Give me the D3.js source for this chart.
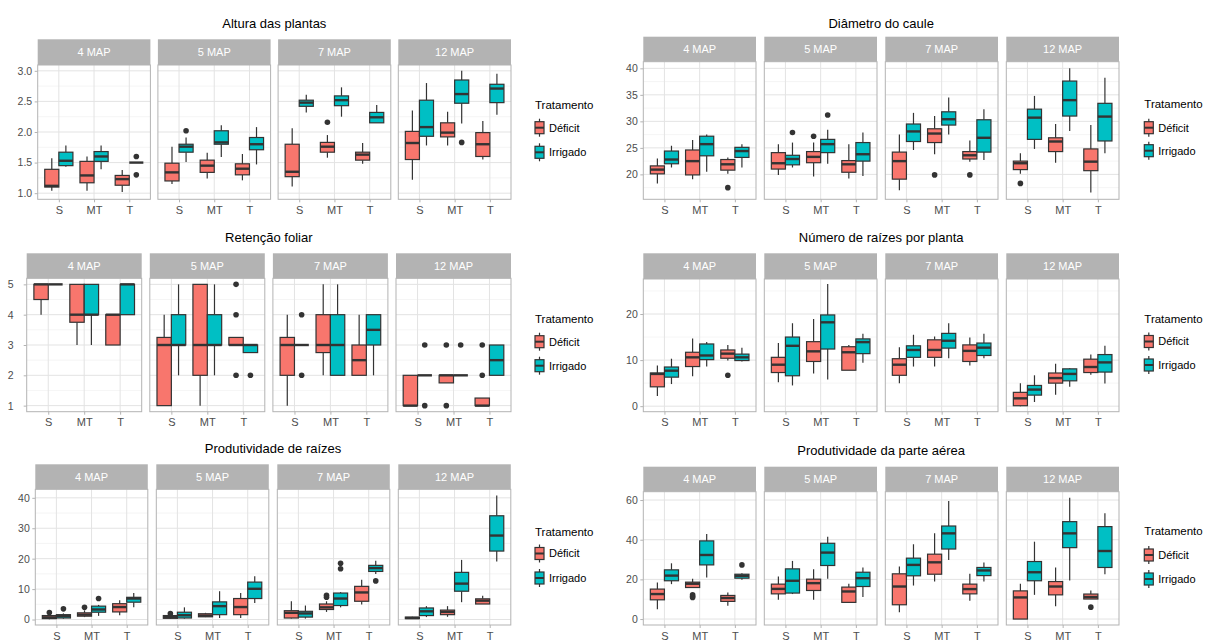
<!DOCTYPE html>
<html><head><meta charset="utf-8">
<script src="https://cdn.jsdelivr.net/npm/d3@7"></script>
<style>
body{margin:0;background:#fff}
svg{display:block}
text{font-family:"Liberation Sans",Arial,Helvetica,sans-serif}
</style>
</head><body>
<svg id="chart" width="1206" height="643"></svg>
<script>
const facets = ["4 MAP", "5 MAP", "7 MAP", "12 MAP"];
const categories = ["S", "MT", "T"];
const treatments = ["Déficit", "Irrigado"];
const treatmentColors = ["#F8766D", "#00BFC4"];

// columns: facet, category, treatment, lower whisker, q1, median, q3, upper whisker, outliers
const alturaStats = [
  ["4 MAP","S","Déficit",1.04,1.10,1.12,1.39,1.57,[]],
  ["4 MAP","S","Irrigado",1.43,1.45,1.53,1.67,1.78,[]],
  ["4 MAP","MT","Déficit",1.04,1.17,1.29,1.52,1.60,[]],
  ["4 MAP","MT","Irrigado",1.39,1.52,1.60,1.68,1.78,[]],
  ["4 MAP","T","Déficit",1.02,1.13,1.23,1.29,1.38,[]],
  ["4 MAP","T","Irrigado",1.50,1.50,1.50,1.50,1.50,[1.6,1.3]],
  ["5 MAP","S","Déficit",1.15,1.20,1.34,1.49,1.76,[]],
  ["5 MAP","S","Irrigado",1.51,1.67,1.76,1.80,1.91,[2.02]],
  ["5 MAP","MT","Déficit",1.24,1.34,1.45,1.54,1.66,[]],
  ["5 MAP","MT","Irrigado",1.59,1.80,1.83,2.02,2.11,[]],
  ["5 MAP","T","Déficit",1.21,1.30,1.40,1.48,1.64,[]],
  ["5 MAP","T","Irrigado",1.47,1.71,1.80,1.91,2.08,[]],
  ["7 MAP","S","Déficit",1.11,1.27,1.35,1.80,2.06,[]],
  ["7 MAP","S","Irrigado",2.32,2.42,2.48,2.52,2.61,[]],
  ["7 MAP","MT","Déficit",1.58,1.67,1.76,1.83,1.95,[2.16]],
  ["7 MAP","MT","Irrigado",2.25,2.43,2.52,2.59,2.73,[]],
  ["7 MAP","T","Déficit",1.48,1.54,1.63,1.67,1.82,[]],
  ["7 MAP","T","Irrigado",2.15,2.15,2.24,2.32,2.44,[]],
  ["12 MAP","S","Déficit",1.22,1.55,1.82,2.01,2.35,[]],
  ["12 MAP","S","Irrigado",1.78,1.93,2.08,2.52,2.80,[]],
  ["12 MAP","MT","Déficit",1.78,1.92,1.99,2.15,2.33,[]],
  ["12 MAP","MT","Irrigado",2.14,2.47,2.62,2.85,3.00,[1.83]],
  ["12 MAP","T","Déficit",1.55,1.60,1.80,1.99,2.18,[]],
  ["12 MAP","T","Irrigado",2.28,2.48,2.71,2.78,2.95,[]]
];

const diametroStats = [
  ["4 MAP","S","Déficit",18.3,20.1,20.9,21.6,23.0,[]],
  ["4 MAP","S","Irrigado",21.3,22.0,22.8,24.4,25.4,[]],
  ["4 MAP","MT","Déficit",19.1,19.9,22.5,24.6,26.5,[]],
  ["4 MAP","MT","Irrigado",20.5,23.5,25.7,27.2,27.5,[]],
  ["4 MAP","T","Déficit",20.1,20.8,21.9,22.8,23.2,[17.5]],
  ["4 MAP","T","Irrigado",21.3,23.2,24.4,25.1,25.7,[]],
  ["5 MAP","S","Déficit",19.9,21.0,22.1,24.1,25.7,[]],
  ["5 MAP","S","Irrigado",21.3,21.8,22.9,23.6,26.0,[27.9]],
  ["5 MAP","MT","Déficit",19.6,22.2,23.3,24.3,26.0,[27.2]],
  ["5 MAP","MT","Irrigado",22.0,24.1,25.7,26.6,28.4,[31.2]],
  ["5 MAP","T","Déficit",19.2,20.4,21.9,22.6,25.7,[]],
  ["5 MAP","T","Irrigado",19.7,22.5,23.8,26.0,27.9,[]],
  ["7 MAP","S","Déficit",17.0,19.1,22.5,24.2,27.5,[]],
  ["7 MAP","S","Irrigado",24.6,26.2,28.1,29.5,31.6,[]],
  ["7 MAP","MT","Déficit",23.8,26.0,27.7,28.6,31.0,[19.9]],
  ["7 MAP","MT","Irrigado",27.5,29.3,30.4,31.8,34.5,[]],
  ["7 MAP","T","Déficit",22.4,22.9,23.6,24.3,26.4,[19.9]],
  ["7 MAP","T","Irrigado",22.7,24.2,26.9,30.3,32.3,[]],
  ["12 MAP","S","Déficit",20.1,20.9,22.1,22.5,24.0,[18.3]],
  ["12 MAP","S","Irrigado",24.8,26.6,30.7,32.3,34.8,[]],
  ["12 MAP","MT","Déficit",22.2,24.3,26.2,26.9,29.5,[]],
  ["12 MAP","MT","Irrigado",28.2,31.0,34.0,37.6,40.0,[]],
  ["12 MAP","T","Déficit",16.6,20.7,22.4,24.8,29.3,[]],
  ["12 MAP","T","Irrigado",24.0,26.3,30.9,33.4,38.2,[]]
];

const retencaoStats = [
  ["4 MAP","S","Déficit",4,4.5,5,5,5,[]],
  ["4 MAP","S","Irrigado",5,5,5,5,5,[]],
  ["4 MAP","MT","Déficit",3,3.75,4,5,5,[]],
  ["4 MAP","MT","Irrigado",3,4,4,5,5,[]],
  ["4 MAP","T","Déficit",3,3,4,4,4,[]],
  ["4 MAP","T","Irrigado",4,4,5,5,5,[]],
  ["5 MAP","S","Déficit",1,1,3,3.25,4,[]],
  ["5 MAP","S","Irrigado",2,3,3,4,5,[]],
  ["5 MAP","MT","Déficit",1,2,3,5,5,[]],
  ["5 MAP","MT","Irrigado",2,3,3,4,5,[]],
  ["5 MAP","T","Déficit",3,3,3,3.25,3.25,[5,4,2]],
  ["5 MAP","T","Irrigado",2.75,2.75,3,3,3,[2]],
  ["7 MAP","S","Déficit",1,2,3,3.25,4,[]],
  ["7 MAP","S","Irrigado",3,3,3,3,3,[4,2]],
  ["7 MAP","MT","Déficit",2,2.75,3,4,5,[]],
  ["7 MAP","MT","Irrigado",2,2,3,4,5,[]],
  ["7 MAP","T","Déficit",2,2,2.5,3,4,[]],
  ["7 MAP","T","Irrigado",2,3,3.5,4,4,[]],
  ["12 MAP","S","Déficit",1,1,1,2,2,[]],
  ["12 MAP","S","Irrigado",2,2,2,2,2,[3,1]],
  ["12 MAP","MT","Déficit",1.75,1.75,2,2,2,[3,1]],
  ["12 MAP","MT","Irrigado",2,2,2,2,2,[3]],
  ["12 MAP","T","Déficit",1,1,1,1.25,1.25,[3,2]],
  ["12 MAP","T","Irrigado",2,2,2.5,3,3,[]]
];

const numeroStats = [
  ["4 MAP","S","Déficit",2.2,4.2,7.0,7.2,8.8,[]],
  ["4 MAP","S","Irrigado",4.8,6.3,7.7,8.5,10.3,[]],
  ["4 MAP","MT","Déficit",6.5,8.6,10.6,11.7,14.7,[]],
  ["4 MAP","MT","Irrigado",8.6,10.1,11.0,13.5,13.9,[]],
  ["4 MAP","T","Déficit",9.9,10.4,11.4,12.2,13.3,[6.7]],
  ["4 MAP","T","Irrigado",9.7,9.9,10.6,11.3,12.7,[]],
  ["5 MAP","S","Déficit",5.2,7.3,9.0,10.6,13.7,[]],
  ["5 MAP","S","Irrigado",4.5,6.6,13.1,15.0,18.0,[]],
  ["5 MAP","MT","Déficit",7.1,9.7,11.9,14.0,18.9,[]],
  ["5 MAP","MT","Irrigado",5.8,12.4,18.2,19.8,26.5,[]],
  ["5 MAP","T","Déficit",7.8,7.8,11.7,12.9,13.3,[]],
  ["5 MAP","T","Irrigado",9.4,11.4,13.9,14.6,15.7,[]],
  ["7 MAP","S","Déficit",5.0,6.7,9.0,10.3,12.8,[]],
  ["7 MAP","S","Irrigado",8.6,10.6,12.2,13.1,15.5,[]],
  ["7 MAP","MT","Déficit",8.6,10.6,12.2,14.4,15.1,[]],
  ["7 MAP","MT","Irrigado",10.4,12.6,14.2,15.8,18.0,[]],
  ["7 MAP","T","Déficit",8.8,9.7,12.0,13.3,14.9,[]],
  ["7 MAP","T","Irrigado",10.4,11.0,12.7,13.7,15.7,[]],
  ["12 MAP","S","Déficit",0.0,0.1,1.7,3.0,5.0,[]],
  ["12 MAP","S","Irrigado",0.9,2.4,3.6,4.5,6.7,[]],
  ["12 MAP","MT","Déficit",2.5,5.0,6.1,7.2,9.2,[]],
  ["12 MAP","MT","Irrigado",4.2,5.5,7.0,8.1,8.3,[]],
  ["12 MAP","T","Déficit",6.8,7.3,8.5,10.2,11.2,[]],
  ["12 MAP","T","Irrigado",4.9,7.4,9.5,11.2,13.1,[]]
];

const raizesStats = [
  ["4 MAP","S","Déficit",0.1,0.3,0.7,1.3,1.8,[2.3]],
  ["4 MAP","S","Irrigado",0.3,0.5,1.1,1.6,2.0,[3.5]],
  ["4 MAP","MT","Déficit",0.8,1.1,1.6,2.2,3.0,[4.0]],
  ["4 MAP","MT","Irrigado",1.2,2.4,3.3,4.4,4.8,[6.9]],
  ["4 MAP","T","Déficit",1.4,2.5,4.1,5.2,6.3,[]],
  ["4 MAP","T","Irrigado",4.0,5.7,6.9,7.3,8.7,[]],
  ["5 MAP","S","Déficit",0.2,0.4,0.8,1.3,1.6,[2.0]],
  ["5 MAP","S","Irrigado",0.3,0.5,1.4,2.4,4.0,[]],
  ["5 MAP","MT","Déficit",0.8,0.9,1.3,1.9,2.2,[]],
  ["5 MAP","MT","Irrigado",0.5,1.6,4.4,5.8,9.3,[]],
  ["5 MAP","T","Déficit",0.5,1.6,4.1,6.9,8.7,[]],
  ["5 MAP","T","Irrigado",5.4,6.9,10.1,12.3,14.2,[]],
  ["7 MAP","S","Déficit",0.3,0.5,2.2,2.9,6.0,[]],
  ["7 MAP","S","Irrigado",0.3,0.8,2.0,2.7,4.6,[]],
  ["7 MAP","MT","Déficit",2.5,3.3,4.0,5.1,6.0,[8.0,7.3]],
  ["7 MAP","MT","Irrigado",4.0,4.6,6.9,8.7,9.0,[18.5,16.7]],
  ["7 MAP","T","Déficit",4.9,6.0,8.9,10.9,13.1,[]],
  ["7 MAP","T","Irrigado",15.0,15.8,16.9,17.8,19.3,[12.7]],
  ["12 MAP","S","Déficit",0.2,0.3,0.5,0.8,0.9,[]],
  ["12 MAP","S","Irrigado",0.8,1.3,2.7,3.8,4.4,[]],
  ["12 MAP","MT","Déficit",0.9,1.6,2.5,3.1,4.4,[]],
  ["12 MAP","MT","Irrigado",5.7,9.3,11.8,15.5,19.6,[]],
  ["12 MAP","T","Déficit",5.1,5.1,6.2,6.8,7.8,[]],
  ["12 MAP","T","Irrigado",19.1,22.5,27.6,34.1,40.8,[]]
];

const aereaStats = [
  ["4 MAP","S","Déficit",5.0,9.7,12.6,15.1,18.4,[]],
  ["4 MAP","S","Irrigado",17.6,19.3,21.9,24.8,28.1,[]],
  ["4 MAP","MT","Déficit",15.6,15.9,17.8,18.6,20.3,[12.2,11.5,10.9]],
  ["4 MAP","MT","Irrigado",20.9,27.3,32.3,39.4,42.9,[]],
  ["4 MAP","T","Déficit",6.7,8.9,10.6,11.9,13.4,[]],
  ["4 MAP","T","Irrigado",19.8,20.6,21.8,22.6,23.1,[27.3]],
  ["5 MAP","S","Déficit",9.7,12.7,15.2,17.6,21.4,[]],
  ["5 MAP","S","Irrigado",12.6,13.1,19.3,25.3,29.3,[]],
  ["5 MAP","MT","Déficit",9.7,14.4,18.1,20.1,25.1,[]],
  ["5 MAP","MT","Irrigado",20.3,27.0,33.5,38.2,41.5,[]],
  ["5 MAP","T","Déficit",8.4,8.4,13.9,16.1,17.8,[]],
  ["5 MAP","T","Irrigado",11.1,16.4,20.6,23.6,26.0,[]],
  ["7 MAP","S","Déficit",3.4,7.2,16.4,22.8,26.5,[]],
  ["7 MAP","S","Irrigado",16.9,21.8,27.3,30.7,37.7,[]],
  ["7 MAP","MT","Déficit",18.9,22.6,28.6,32.7,43.2,[]],
  ["7 MAP","MT","Irrigado",29.8,35.3,43.2,46.9,59.5,[]],
  ["7 MAP","T","Déficit",9.2,12.7,15.1,17.6,22.8,[]],
  ["7 MAP","T","Irrigado",18.9,21.9,24.5,26.0,28.5,[]],
  ["12 MAP","S","Déficit",0.0,0.0,10.9,14.2,17.8,[]],
  ["12 MAP","S","Irrigado",12.2,19.3,23.6,29.0,39.0,[]],
  ["12 MAP","MT","Déficit",6.4,12.2,16.4,18.9,26.0,[]],
  ["12 MAP","MT","Irrigado",19.4,36.0,43.2,49.1,61.1,[]],
  ["12 MAP","T","Déficit",10.1,10.1,11.1,12.6,14.4,[6.0]],
  ["12 MAP","T","Irrigado",22.6,26.0,34.3,46.6,53.3,[]]
];

const alturaTicks = [1.0, 1.5, 2.0, 2.5, 3.0];
const diametroTicks = [20, 25, 30, 35, 40];
const retencaoTicks = [1, 2, 3, 4, 5];
const numeroTicks = [0, 10, 20];
const raizesTicks = [0, 10, 20, 30, 40];
const aereaTicks = [0, 20, 40, 60];

const panelTitles = ["Altura das plantas", "Diâmetro do caule", "Retenção foliar",
  "Número de raízes por planta", "Produtividade de raízes", "Produtividade da parte aérea"];
const legendTitle = "Tratamento";

// layout (positions only)
const layout = [
  {stats: alturaStats, ticks: alturaTicks, fmt: d3.format(".1f"), domain: [0.9, 3.095], pad: 2.5,
   x0: 37.7, pitch: 120.2, w: 112.7, stripTop: 39.3, stripBottom: 65, bottom: 199.3, titleY: 28,
   legX: 535, legTitleY: 105, legY: [127.7, 152.3]},
  {stats: diametroStats, ticks: diametroTicks, fmt: d3.format("d"), domain: [15.3, 41.25], pad: 2.5,
   x0: 643.3, pitch: 121, w: 112.7, stripTop: 36.7, stripBottom: 61.7, bottom: 199.3, titleY: 28.3,
   legX: 1144.3, legTitleY: 104, legY: [127.7, 150.7]},
  {stats: retencaoStats, ticks: retencaoTicks, fmt: d3.format("d"), domain: [0.8, 5.2], pad: 10,
   x0: 26.7, pitch: 123.1, w: 115, stripTop: 253.3, stripBottom: 278.3, bottom: 411.7, titleY: 242,
   legX: 535, legTitleY: 319, legY: [341.7, 365.7]},
  {stats: numeroStats, ticks: numeroTicks, fmt: d3.format("d"), domain: [-1.2, 27.6], pad: 2.5,
   x0: 643.3, pitch: 121, w: 112.7, stripTop: 253.3, stripBottom: 279, bottom: 411.7, titleY: 241.7,
   legX: 1144.3, legTitleY: 319, legY: [341.5, 365]},
  {stats: raizesStats, ticks: raizesTicks, fmt: d3.format("d"), domain: [-1.8, 42.8], pad: 2.5,
   x0: 35.3, pitch: 121, w: 112.5, stripTop: 464.3, stripBottom: 489.3, bottom: 625, titleY: 453.3,
   legX: 535, legTitleY: 531.5, legY: [553.5, 578]},
  {stats: aereaStats, ticks: aereaTicks, fmt: d3.format("d"), domain: [-3, 64.2], pad: 2.5,
   x0: 643.3, pitch: 121, w: 112.7, stripTop: 466.7, stripBottom: 491.7, bottom: 625, titleY: 455,
   legX: 1144.3, legTitleY: 531, legY: [555, 579]}
];

const svg = d3.select("#chart");
svg.append("rect").attr("width", 1206).attr("height", 643).attr("fill", "#fff");

const color = d3.scaleOrdinal().domain(treatments).range(treatmentColors);
const GRID = "#e3e3e3", GRIDMINOR = "#eeeeee", BORDER = "#b3b3b3", STRIP = "#b3b3b3";
const OUTLINE = "#333333";

function minorBreaks(ticks, domain) {
  const step = ticks[1] - ticks[0];
  const out = [];
  for (let t = ticks[0] - step / 2; t <= ticks[ticks.length - 1] + step; t += step) {
    if (t >= domain[0] && t <= domain[1]) out.push(t);
  }
  return out;
}

layout.forEach((cfg, pi) => {
  const g = svg.append("g");
  const y = d3.scaleLinear().domain(cfg.domain).range([cfg.bottom, cfg.stripBottom]);
  const right = cfg.x0 + 3 * cfg.pitch + cfg.w;

  g.append("text").attr("x", (cfg.x0 + right) / 2).attr("y", cfg.titleY)
    .attr("text-anchor", "middle").attr("font-size", 13).attr("fill", "#000")
    .text(panelTitles[pi]);

  facets.forEach((f, fi) => {
    const fx = cfg.x0 + fi * cfg.pitch;
    const x = d3.scalePoint().domain(categories).range([fx, fx + cfg.w]).padding(0.6);
    const step = x.step();
    const dodge = d3.scaleBand().domain(treatments).range([-0.4 * step, 0.4 * step]);
    const bw = dodge.bandwidth();
    const fg = g.append("g");

    fg.append("rect").attr("x", fx).attr("y", cfg.stripBottom).attr("width", cfg.w)
      .attr("height", cfg.bottom - cfg.stripBottom).attr("fill", "#fff");

    fg.selectAll(".minor").data(minorBreaks(cfg.ticks, cfg.domain)).join("line")
      .attr("x1", fx).attr("x2", fx + cfg.w)
      .attr("y1", d => y(d)).attr("y2", d => y(d))
      .attr("stroke", GRIDMINOR).attr("stroke-width", 0.6);
    fg.selectAll(".major").data(cfg.ticks).join("line")
      .attr("x1", fx).attr("x2", fx + cfg.w)
      .attr("y1", d => y(d)).attr("y2", d => y(d))
      .attr("stroke", GRID).attr("stroke-width", 1);
    fg.selectAll(".vmajor").data(categories).join("line")
      .attr("x1", d => x(d)).attr("x2", d => x(d))
      .attr("y1", cfg.stripBottom).attr("y2", cfg.bottom)
      .attr("stroke", GRID).attr("stroke-width", 1);

    const rows = cfg.stats.filter(r => r[0] === f);
    rows.forEach(r => {
      const [, cat, tr, lo, q1, med, q3, hi, outs] = r;
      const cx = x(cat) + dodge(tr) + bw / 2;
      const bg = fg.append("g");
      bg.append("line").attr("x1", cx).attr("x2", cx).attr("y1", y(hi)).attr("y2", y(q3))
        .attr("stroke", OUTLINE).attr("stroke-width", 1.2);
      bg.append("line").attr("x1", cx).attr("x2", cx).attr("y1", y(q1)).attr("y2", y(lo))
        .attr("stroke", OUTLINE).attr("stroke-width", 1.2);
      bg.append("rect").attr("x", x(cat) + dodge(tr)).attr("width", bw)
        .attr("y", y(q3)).attr("height", Math.max(0, y(q1) - y(q3)))
        .attr("fill", color(tr)).attr("stroke", OUTLINE).attr("stroke-width", 1.2);
      bg.append("line").attr("x1", x(cat) + dodge(tr)).attr("x2", x(cat) + dodge(tr) + bw)
        .attr("y1", y(med)).attr("y2", y(med))
        .attr("stroke", OUTLINE).attr("stroke-width", 2.4);
      bg.selectAll("circle").data(outs).join("circle")
        .attr("cx", cx).attr("cy", d => y(d)).attr("r", 2.8).attr("fill", OUTLINE);
    });

    fg.append("rect").attr("x", fx).attr("y", cfg.stripBottom).attr("width", cfg.w)
      .attr("height", cfg.bottom - cfg.stripBottom).attr("fill", "none")
      .attr("stroke", BORDER).attr("stroke-width", 1);
    fg.append("rect").attr("x", fx).attr("y", cfg.stripTop).attr("width", cfg.w)
      .attr("height", cfg.stripBottom - cfg.stripTop).attr("fill", STRIP);
    fg.append("text").attr("x", fx + cfg.w / 2).attr("y", (cfg.stripTop + cfg.stripBottom) / 2)
      .attr("dy", "0.35em").attr("text-anchor", "middle").attr("font-size", 11)
      .attr("fill", "#fff").text(f);

    const xa = fg.append("g").attr("transform", `translate(0,${cfg.bottom})`)
      .call(d3.axisBottom(x).tickSize(3).tickPadding(4));
    xa.select(".domain").remove();
    xa.selectAll("line").attr("stroke", BORDER);
    xa.selectAll("text").attr("fill", "#4d4d4d").attr("font-size", 11)
      .attr("font-family", "Liberation Sans, Arial, sans-serif");

    if (fi === 0) {
      const ya = fg.append("g").attr("transform", `translate(${fx},0)`)
        .call(d3.axisLeft(y).tickValues(cfg.ticks).tickFormat(cfg.fmt).tickSize(3).tickPadding(cfg.pad));
      ya.select(".domain").remove();
      ya.selectAll("line").attr("stroke", BORDER);
      ya.selectAll("text").attr("fill", "#4d4d4d").attr("font-size", 10.5)
        .attr("font-family", "Liberation Sans, Arial, sans-serif");
    }
  });

  const lg = g.append("g");
  lg.append("text").attr("x", cfg.legX).attr("y", cfg.legTitleY).attr("dy", "0.35em")
    .attr("font-size", 11.5).attr("fill", "#000").text(legendTitle);
  treatments.forEach((tr, ti) => {
    const cy = cfg.legY[ti];
    const kx = cfg.legX + 4.5;
    lg.append("line").attr("x1", kx).attr("x2", kx).attr("y1", cy - 9).attr("y2", cy + 9)
      .attr("stroke", OUTLINE).attr("stroke-width", 1.2);
    lg.append("rect").attr("x", cfg.legX).attr("y", cy - 6).attr("width", 9).attr("height", 12)
      .attr("fill", color(tr)).attr("stroke", OUTLINE).attr("stroke-width", 1.2);
    lg.append("line").attr("x1", cfg.legX).attr("x2", cfg.legX + 9).attr("y1", cy).attr("y2", cy)
      .attr("stroke", OUTLINE).attr("stroke-width", 2);
    lg.append("text").attr("x", cfg.legX + 14).attr("y", cy).attr("dy", "0.35em")
      .attr("font-size", 11).attr("fill", "#000").text(tr);
  });
});
</script>
</body></html>
